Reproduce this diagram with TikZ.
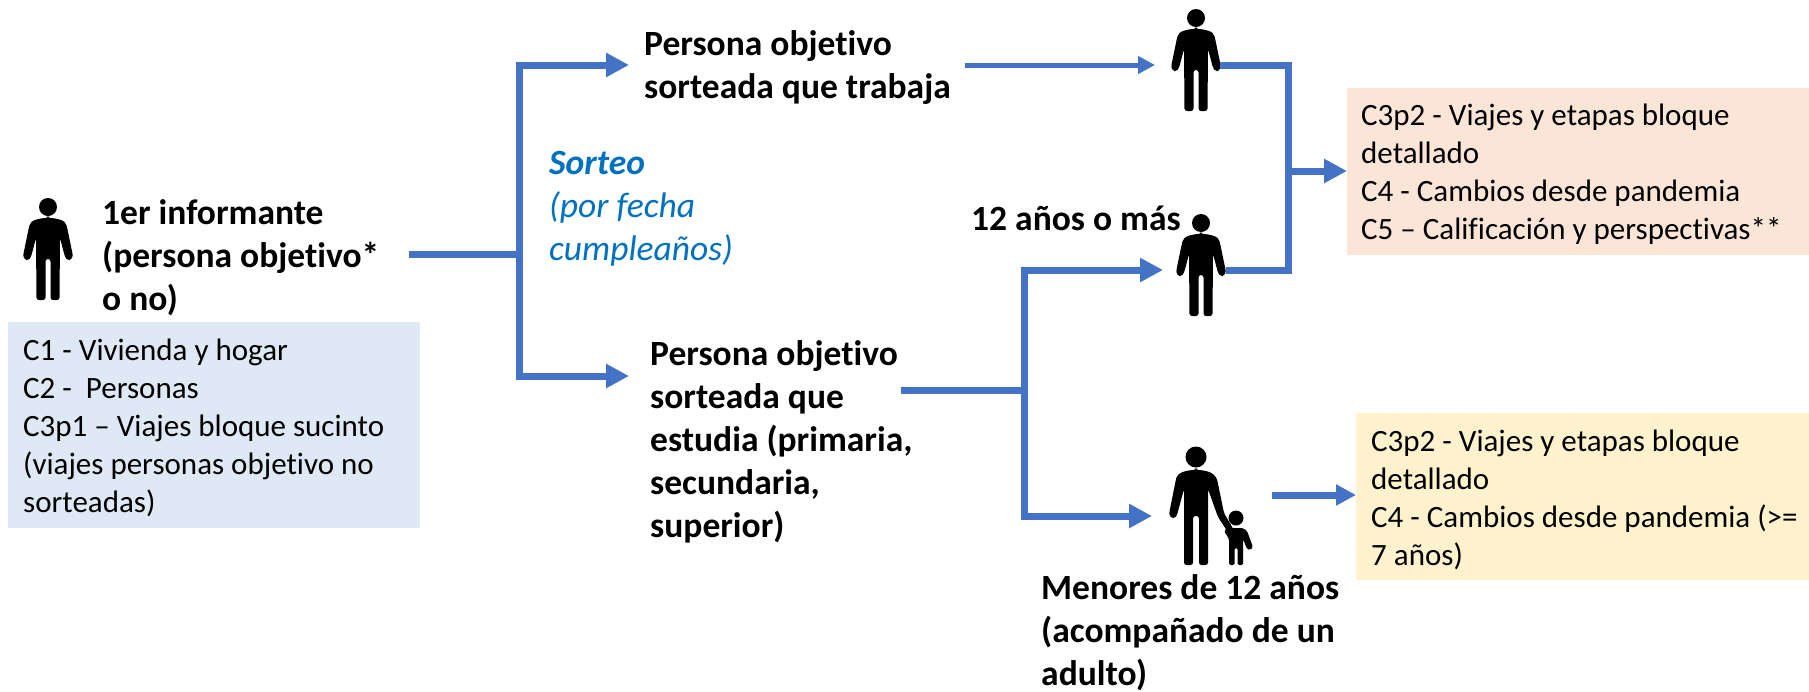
\documentclass[tikz,border=0pt]{standalone}
\usepackage{fontspec}
\setmainfont[Ligatures=NoCommon]{Carlito}
\usetikzlibrary{arrows.meta}
\definecolor{flow}{HTML}{4472C4}
\definecolor{sorteo}{HTML}{0070C0}
\definecolor{boxblue}{HTML}{DEE9F5}
\definecolor{boxpeach}{HTML}{FBE5D6}
\definecolor{boxyellow}{HTML}{FFF2CC}
\tikzset{
  flowline/.style={draw=flow,line width=7pt},
  flowthin/.style={draw=flow,line width=5pt},
  bigarrow/.style={flowline,-{Triangle[length=23pt,width=23pt]}},
  midarrow/.style={flowline,-{Triangle[length=20pt,width=20pt]}},
  thinarrow/.style={flowthin,-{Triangle[length=17pt,width=17pt]}},
  boldtxt/.style={font=\fontsize{35.5}{43}\selectfont\bfseries,align=left,anchor=north west,inner sep=0pt},
  boxtxt/.style={font=\fontsize{31}{38}\selectfont,align=left,anchor=north west,inner sep=0pt},
  sorteotxt/.style={font=\fontsize{35.5}{43}\selectfont\itshape,text=sorteo,align=left,anchor=north west,inner sep=0pt},
  figslot/.style={inner sep=0pt,minimum width=49pt,minimum height=102pt},
}
% person: (#1,#2) = centre x, top y
\newcommand{\personfig}[2]{%
  \begin{scope}[shift={(#1,#2)}]
    \fill[black] (0,9) circle[radius=9];
    \fill[black,rounded corners=2.5pt] (0,20) .. controls (7,20) and (15,22) .. (18,26)
      -- (19,29) -- (25,58) -- (23,62) -- (19.5,62) -- (17,59) -- (12,40) -- (11.5,102) -- (2.5,102) -- (2.5,61)
      -- (-2.5,61) -- (-2.5,102) -- (-11.5,102) -- (-12,40) -- (-17,59) -- (-19.5,62) -- (-23,62) -- (-25,58)
      -- (-19,29) -- (-18,26) .. controls (-15,22) and (-7,20) .. (0,20) -- cycle;
  \end{scope}}
\begin{document}
\begin{tikzpicture}[x=1pt,y=-1pt]
\useasboundingbox (0,0) rectangle (1809,691);
% boxes
\fill[boxblue] (8,322) rectangle (420,528);
\fill[boxpeach] (1347,88) rectangle (1809,255);
\fill[boxyellow] (1356,413) rectangle (1809,580);
% figures
\personfig{48}{198}
\node[figslot] (p0) at (48,249) {};
\personfig{1196}{9}
\node[figslot] (p1) at (1196,60) {};
\personfig{1201}{214}
\node[figslot] (p2) at (1201,265) {};
% adult with child
\begin{scope}[shift={(1196,447)}]
  \fill[black] (0,10) circle[radius=10.5];
  \fill[black,rounded corners=2.5pt] (0,23) .. controls (8,23) and (15,25) .. (19,29)
    -- (21,32) -- (28,66) -- (43,92) -- (39,96) -- (22,70) -- (12,42) -- (12,118) -- (3,118) -- (3,69)
    -- (-3,69) -- (-3,118) -- (-12,118) -- (-12,42) -- (-19,68) -- (-21,71) -- (-25,71) -- (-27,67)
    -- (-20,32) -- (-19,29) .. controls (-15,25) and (-8,23) .. (0,23) -- cycle;
\end{scope}
\begin{scope}[shift={(1236,511)}]
  \fill[black] (0,7) circle[radius=7.5];
  \fill[black,rounded corners=1.5pt] (-9,17) -- (7,17) -- (11,20) -- (17,36) -- (14,39) -- (11,38) -- (7,28)
    -- (7,54) -- (1.5,54) -- (1.5,37) -- (-1.5,37) -- (-1.5,54) -- (-7,54) -- (-7,28) -- (-12,20) -- cycle;
\end{scope}
\node[inner sep=0pt,minimum width=70pt,minimum height=118pt] (p3) at (1205,506) {};
% texts
\node[boldtxt] (t0) at (102,199) {1er informante\\(persona objetivo*\\o no)};
\node[boxtxt] (b0) at (23,339) {C1 - Vivienda y hogar\\C2 -\ \ Personas\\C3p1 – Viajes bloque sucinto\\(viajes personas objetivo no\\sorteadas)};
\node[boldtxt] (t1) at (644,30) {Persona objetivo\\sorteada que trabaja};
\node[boldtxt] (t2) at (650,340) {Persona objetivo\\sorteada que\\estudia (primaria,\\secundaria,\\superior)};
\node[sorteotxt] (s) at (549,151) {\textbf{Sorteo}\\(por fecha\\cumpleaños)};
\node[boldtxt] at (971,206) (t3) {12 años o más};
\node[boldtxt] (t4) at (1041,574) {Menores de 12 años\\(acompañado de un\\adulto)};
\node[boxtxt] (b1) at (1361,104) {C3p2 - Viajes y etapas bloque\\detallado\\C4 - Cambios desde pandemia\\C5 – Calificación y perspectivas**};
\node[boxtxt] (b2) at (1371,430) {C3p2 - Viajes y etapas bloque\\detallado\\C4 - Cambios desde pandemia (>=\\7 años)};
% junctions
\coordinate (src) at (409,254);
\coordinate (j0) at (519,254);
\coordinate (j0t) at (519,65);
\coordinate (j0b) at (519,376);
\coordinate (t1e) at (629,65);
\coordinate (t2e) at (629,376);
\coordinate (o1) at (965,65);
\coordinate (a1) at (1155,65);
\coordinate (o2) at (901,390);
\coordinate (j1) at (1024,390);
\coordinate (j1t) at (1024,270);
\coordinate (j1b) at (1024,516);
\coordinate (a2) at (1163,270);
\coordinate (a3) at (1152,516);
\coordinate (r1) at (1220,65);
\coordinate (r2) at (1226,270);
\coordinate (c1) at (1288,65);
\coordinate (c2) at (1288,270);
\coordinate (cm) at (1288,171);
\coordinate (b1w) at (1347,171);
\coordinate (o3) at (1272,495);
\coordinate (b2w) at (1356,495);
% connectors
\draw[flowline] (src) -- (j0);
\draw[bigarrow] (j0b -| j0t) -- (j0t) -- (t1e);
\draw[bigarrow] (j0t |- j0) -- (j0b) -- (t2e);
\draw[thinarrow] (o1) -- (a1);
\draw[flowline] (o2) -- (j1);
\draw[bigarrow] (j1) -- (j1t) -- (a2);
\draw[bigarrow] (j1) -- (j1b) -- (a3);
\draw[flowline,line join=miter] (r1) -- (c1) -- (c2) -- (r2);
\draw[bigarrow] (cm) -- (b1w);
\draw[midarrow] (o3) -- (b2w);
\end{tikzpicture}
\end{document}
